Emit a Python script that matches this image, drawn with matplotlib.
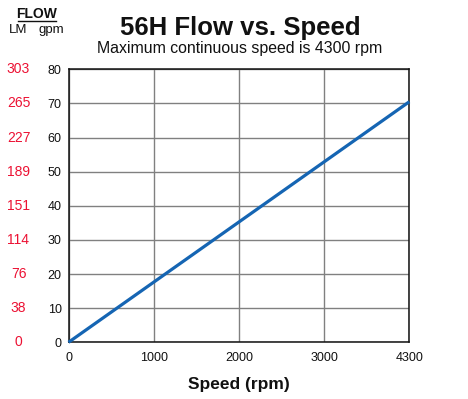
import numpy as np
import matplotlib
matplotlib.use("Agg")
import matplotlib.pyplot as plt
from matplotlib.lines import Line2D
from matplotlib.transforms import blended_transform_factory

plt.rcParams['font.family'] = ['Liberation Sans', 'DejaVu Sans']

# Data
speed_rpm = [0, 4300]
flow_gpm = [0, 70.5]
x_ticks = [0, 1000, 2000, 3000, 4300]
gpm_ticks = [0, 10, 20, 30, 40, 50, 60, 70, 80]
lm_labels = ["0", "38", "76", "114", "151", "189", "227", "265", "303"]

title = "56H Flow vs. Speed"
subtitle = "Maximum continuous speed is 4300 rpm"

RED = "#ec1133"
BLUE = "#1565b3"
INK = "#111111"

def fwd(x):
    x = np.asarray(x, dtype=float)
    return np.where(x <= 3000, x, 3000 + (x - 3000) * 1000.0 / 1300.0)

def inv(y):
    y = np.asarray(y, dtype=float)
    return np.where(y <= 3000, y, 3000 + (y - 3000) * 1300.0 / 1000.0)

fig = plt.figure(figsize=(4.68, 3.99), dpi=100)
ax = fig.add_axes([0.1464, 0.1421, 0.7282, 0.6842])
ax.set_xscale('function', functions=(fwd, inv))
ax.set_xlim(0, 4300)
ax.set_ylim(0, 80)

ax.plot(speed_rpm, flow_gpm, color=BLUE, lw=2.3, solid_capstyle='butt', zorder=3, clip_on=False)

ax.set_xticks(x_ticks)
ax.set_xticklabels([str(v) for v in x_ticks])
ax.set_yticks(gpm_ticks)
ax.set_yticklabels([str(v) for v in gpm_ticks])
ax.xaxis.set_minor_locator(matplotlib.ticker.NullLocator())
ax.tick_params(axis='both', length=0, labelsize=9, colors=INK)
ax.tick_params(axis='x', pad=7)
ax.tick_params(axis='y', pad=5)
ax.grid(True, color='#808080', lw=1.0)
ax.set_axisbelow(True)
for s in ax.spines.values():
    s.set_color(INK)
    s.set_linewidth(1.1)

# LM red labels (column at left of figure, aligned with gpm ticks)
tr = blended_transform_factory(fig.transFigure, ax.transData)
for v, lab in zip(gpm_ticks, lm_labels):
    fig.text(18.5 / 468, v, lab, transform=tr, ha='center', va='center',
             fontsize=10, color=RED)

ax.set_xlabel("Speed (rpm)", fontsize=12.5, fontweight='bold', color=INK, labelpad=9)

fig.text(240 / 468, 1 - 27.5 / 399, title, ha='center', va='center',
         fontsize=18.5, fontweight='bold', color=INK)
fig.text(240 / 468, 1 - 49 / 399, subtitle, ha='center', va='center',
         fontsize=11.4, color=INK)

fig.text(36.5 / 468, 1 - 13.5 / 399, "FLOW", ha='center', va='center',
         fontsize=10, fontweight='bold', color=INK)
fig.add_artist(Line2D([18 / 468, 56 / 468], [1 - 21 / 399, 1 - 21 / 399],
                      color=INK, lw=1.0, transform=fig.transFigure))
fig.text(18.5 / 468, 1 - 30 / 399, "LM", ha='center', va='center',
         fontsize=9.5, color=INK)
fig.text(51 / 468, 1 - 30.5 / 399, "gpm", ha='center', va='center',
         fontsize=9.5, color=INK)

fig.savefig("out.png", dpi=100)
